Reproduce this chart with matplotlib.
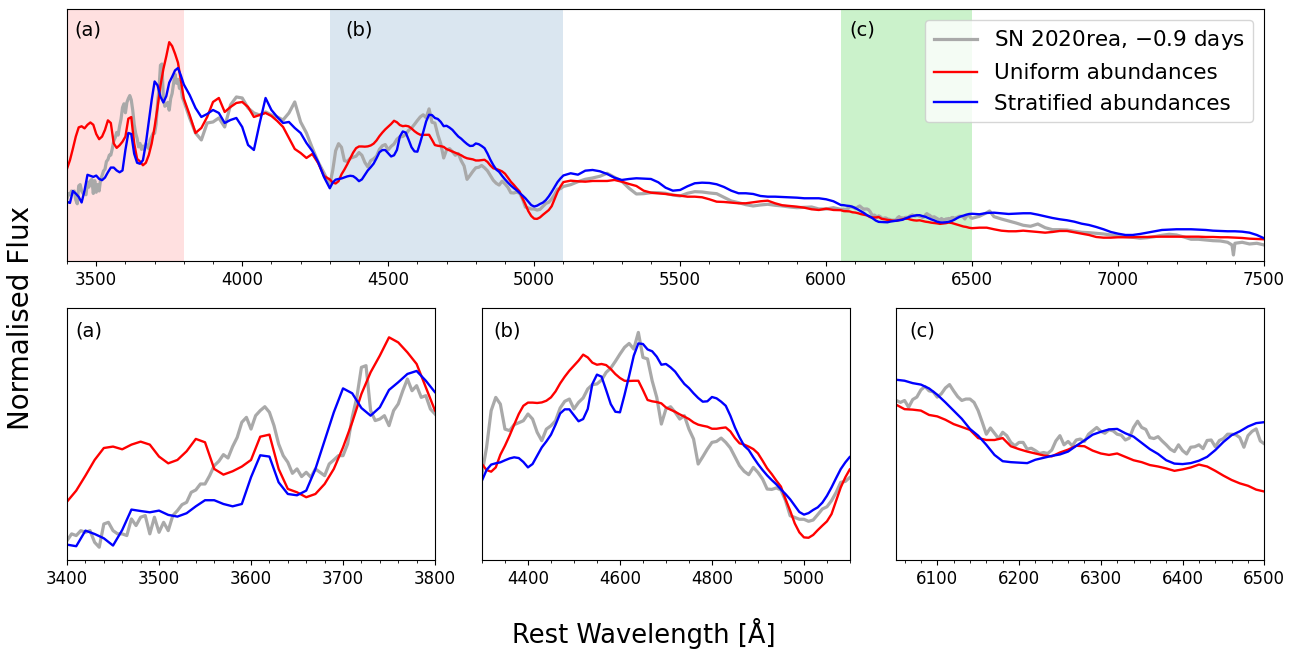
import numpy as np
import matplotlib.pyplot as plt
from matplotlib.ticker import AutoMinorLocator, MultipleLocator
import matplotlib.transforms as mtransforms

# wavelength sampling (Angstrom) for each stretch of the spectrum
wave_a = np.arange(3400, 3801, 10)
wave_ab = np.arange(3820, 4281, 20)
wave_b = np.arange(4300, 5101, 10)
wave_bc = np.arange(5125, 6026, 25)
wave_c = np.arange(6050, 6501, 10)
wave_red = np.arange(6525, 7501, 25)

obs_wave_a = np.arange(3400, 3801, 5)
obs_wave_c = np.arange(6050, 6501, 5)
obs_wave_red = [6525, 6550, 6560, 6575, 6600, 6625, 6650, 6675, 6700, 6725, 6750,
                6775, 6800, 6825, 6850, 6875, 6900, 6925, 6950, 6975, 7000, 7025,
                7050, 7075, 7100, 7125, 7150, 7175, 7200, 7225, 7250, 7275, 7300,
                7325, 7350, 7375, 7390, 7395, 7400, 7425, 7450, 7475, 7500]

# SN 2020rea observed spectrum
obs_a = [62.3, 67.5, 66.2, 70.0, 68.7, 70.0, 61.0, 57.2, 75.1, 76.4,
         70.0, 67.5, 67.5, 66.2, 79.0, 73.9, 80.3, 81.6, 67.5, 80.3,
         68.7, 76.4, 70.0, 81.6, 85.4, 90.0, 91.8, 99.5, 101.3, 105.9,
         105.9, 112.3, 120.0, 123.4, 128.5, 125.9, 134.7, 141.8, 153.4, 157.2,
         148.2, 158.5, 162.4, 165.4, 161.1, 150.8, 136.7, 127.7, 122.6, 114.1,
         117.5, 111.6, 114.9, 111.1, 117.5, 114.9, 112.3, 121.3, 124.4, 127.7,
         127.7, 136.7, 157.2, 172.6, 195.7, 197.0, 162.4, 154.7, 155.9, 158.5,
         150.8, 162.4, 167.5, 177.7, 186.7, 177.7, 181.6, 172.6, 173.9, 163.6,
         159.8]
obs_ab = [143, 128, 121, 138, 139, 143, 134, 156, 164, 163, 153, 148,
          146, 149, 146, 144, 141, 148, 159, 139, 128, 113, 99, 88]
obs_b = [76.2, 90.5, 110.2, 117.3, 113.7, 100.3, 99.5, 102.7, 103.7, 104.8,
         108.4, 105.7, 98.6, 94.1, 100.3, 102.1, 104.8, 111.6, 115.2, 116.4,
         111.1, 114.6, 117.0, 121.8, 124.1, 124.5, 126.6, 130.7, 133.0, 136.6,
         140.5, 144.1, 146.2, 143.2, 152.1, 138.7, 137.9, 126.2, 117.3, 103.0,
         111.1, 112.3, 109.3, 105.7, 107.5, 100.3, 95.0, 81.6, 85.5, 89.6,
         93.2, 93.7, 95.5, 93.2, 90.2, 85.5, 80.7, 77.7, 75.9, 79.8,
         77.1, 73.6, 68.2, 68.0, 68.8, 67.7, 62.0, 53.9, 53.0, 52.0,
         52.0, 50.9, 51.6, 54.5, 57.5, 58.7, 62.0, 66.4, 71.8, 72.3,
         74.5]
obs_bc = [76.3, 79.3, 81.7, 83.0, 84.7, 87.7, 83.7, 79.7, 72.7, 67.0,
          67.3, 68.3, 68.3, 67.7, 66.0, 65.0, 67.7, 69.3, 69.0, 68.0,
          67.3, 63.7, 60.0, 58.3, 56.3, 55.0, 56.0, 56.7, 55.7, 55.0,
          54.0, 53.3, 53.7, 54.0, 52.0, 52.0, 53.3]
obs_c = [51.7, 51.3, 51.7, 50.3, 51.9, 52.4, 53.9, 54.6, 53.7, 53.5,
         52.4, 53.1, 54.3, 55.0, 53.7, 52.5, 51.7, 52.0, 52.0, 51.3,
         49.6, 47.2, 44.7, 46.0, 44.9, 43.8, 45.1, 44.4, 43.0, 42.3,
         43.0, 43.0, 41.6, 41.8, 41.3, 40.7, 40.9, 40.7, 41.4, 43.3,
         44.4, 42.5, 43.2, 42.3, 43.5, 43.7, 43.2, 44.7, 45.4, 46.1,
         45.3, 44.9, 45.6, 45.4, 44.7, 44.5, 43.5, 43.9, 46.1, 47.4,
         46.1, 45.7, 44.0, 43.8, 44.2, 43.3, 42.5, 41.6, 41.1, 42.5,
         41.3, 40.6, 42.0, 42.1, 42.5, 41.7, 43.4, 43.5, 42.1, 43.4,
         43.8, 44.7, 44.7, 44.6, 44.0, 42.0, 44.4, 45.3, 45.8, 43.3,
         42.7]
obs_red = [44.7, 48.3, 50.0, 44.3, 42.0, 40.0, 38.0, 35.7, 34.7, 37.0, 33.3,
           31.3, 31.3, 31.0, 29.7, 28.7, 28.3, 27.7, 27.0, 26.0, 25.0, 24.3,
           23.7, 22.7, 23.3, 24.3, 25.7, 26.7, 26.0, 24.0, 21.7, 21.7, 21.0,
           20.3, 20.0, 18.7, 16.0, 6.0, 17.7, 18.7, 17.0, 17.7, 16.0]

# uniform abundance model
uni_a = [92.3, 100.8, 112.3, 124.4, 133.6, 134.7, 132.6, 136.2, 138.5, 136.2,
         127.0, 121.8, 124.4, 131.1, 140.6, 138.0, 117.5, 113.1, 115.7, 119.3,
         124.4, 142.3, 143.9, 117.5, 102.1, 99.5, 95.7, 98.2, 105.9, 117.5,
         134.1, 153.4, 175.2, 191.9, 204.7, 218.8, 214.9, 207.2, 198.3, 180.3,
         162.4]
uni_ab = [146, 128, 133, 144, 159, 163, 149, 154, 158, 159, 154, 144,
          146, 148, 145, 140, 134, 123, 112, 108, 103, 107, 98, 85]
uni_b = [81.6, 78.4, 77.5, 79.8, 86.6, 91.4, 96.8, 102.7, 108.4, 112.8,
         114.5, 114.5, 114.3, 114.6, 115.5, 117.3, 120.5, 124.8, 128.4, 131.6,
         134.3, 137.0, 140.2, 138.7, 135.9, 134.8, 135.2, 134.6, 132.5, 129.8,
         127.7, 126.2, 126.1, 126.2, 126.2, 121.2, 115.9, 115.2, 114.8, 114.1,
         111.9, 110.7, 109.6, 108.2, 107.0, 105.7, 103.9, 102.7, 102.1, 101.6,
         100.5, 100.5, 100.9, 101.2, 99.1, 95.5, 92.7, 92.0, 90.9, 89.6,
         87.3, 83.4, 79.3, 76.2, 72.7, 69.5, 62.7, 56.6, 49.8, 45.0,
         42.3, 42.1, 43.6, 46.2, 48.6, 50.9, 54.8, 62.0, 69.1, 74.5,
         78.9]
uni_bc = [80.3, 79.7, 79.3, 80.0, 80.0, 80.0, 81.0, 79.3, 77.0, 75.0,
          70.3, 68.3, 67.7, 67.0, 66.0, 65.3, 64.3, 64.3, 63.7, 61.7,
          59.3, 59.0, 58.3, 57.7, 57.7, 58.7, 59.7, 60.3, 57.7, 55.7,
          55.0, 54.3, 53.3, 51.7, 51.0, 52.3, 51.0]
uni_c = [50.8, 49.9, 49.8, 49.6, 48.7, 48.4, 47.7, 46.8, 46.2, 45.6,
         43.9, 43.5, 43.5, 43.9, 42.2, 41.6, 41.1, 40.7, 40.3, 40.1,
         40.9, 41.5, 42.3, 42.2, 41.3, 40.7, 40.4, 40.7, 40.0, 39.3,
         38.9, 38.3, 38.0, 37.6, 37.1, 37.4, 37.8, 38.4, 38.0, 37.1,
         36.1, 35.2, 34.5, 34.0, 33.2, 32.8]
uni_red = [33.3, 33.3, 31.7, 30.3, 29.7, 29.7, 30.3, 29.7, 29.0, 28.3,
           29.0, 30.0, 30.0, 28.7, 27.3, 26.0, 24.0, 23.3, 23.3, 23.7,
           23.7, 23.7, 24.0, 24.0, 24.3, 24.3, 24.3, 24.3, 24.3, 24.3,
           24.3, 24.0, 24.0, 23.7, 23.7, 23.3, 23.0, 22.3, 22.0, 21.7]

# stratified abundance model
strat_a = [59.2, 58.0, 70.0, 67.4, 64.1, 58.5, 70.5, 86.2, 85.1, 84.1,
           85.4, 82.1, 80.8, 83.4, 88.7, 93.4, 93.4, 90.5, 88.7, 90.5,
           111.1, 128.0, 127.0, 107.2, 98.2, 97.2, 100.8, 117.5, 139.3, 161.1,
           179.5, 175.7, 164.4, 158.5, 164.9, 178.3, 184.2, 190.6, 192.9, 185.4,
           176.5]
strat_ab = [166, 153, 144, 147, 151, 148, 138, 141, 143, 134, 116, 111,
            138, 163, 151, 144, 138, 139, 133, 128, 118, 110, 99, 84]
strat_b = [72.7, 78.4, 81.3, 82.0, 82.5, 83.6, 84.6, 85.2, 84.8, 82.7,
           79.8, 81.6, 86.1, 90.5, 93.7, 97.3, 102.7, 108.7, 110.9, 110.9,
           107.7, 104.5, 105.7, 111.1, 124.5, 129.5, 128.4, 121.2, 113.7, 109.6,
           109.3, 118.7, 128.9, 139.6, 146.2, 145.9, 143.0, 142.0, 139.1, 134.8,
           135.2, 133.4, 131.1, 127.7, 124.5, 122.3, 119.5, 117.0, 115.0, 115.2,
           117.5, 116.8, 115.0, 112.8, 107.5, 101.2, 95.9, 91.4, 89.1, 85.2,
           81.6, 78.4, 75.5, 73.0, 70.7, 68.0, 65.5, 62.7, 59.3, 55.9,
           54.5, 55.3, 57.0, 58.4, 60.9, 64.6, 69.1, 74.1, 78.9, 82.5,
           85.5]
strat_bc = [87.7, 86.3, 90.3, 91.0, 89.7, 87.0, 83.3, 81.0, 82.0, 82.7,
            82.3, 82.0, 78.7, 73.3, 70.3, 71.0, 74.7, 77.7, 78.3, 78.0,
            76.7, 74.0, 70.3, 67.7, 67.7, 67.0, 65.0, 64.3, 64.3, 64.0,
            63.7, 63.3, 62.7, 62.7, 62.7, 61.7, 59.7]
strat_c = [56.0, 55.8, 55.3, 55.0, 54.2, 52.9, 51.3, 49.6, 47.9, 45.8,
           44.4, 42.5, 40.4, 39.1, 38.9, 38.8, 38.7, 39.4, 39.8, 40.2,
           40.5, 41.1, 42.3, 43.4, 44.6, 45.2, 45.7, 45.8, 44.9, 44.2,
           42.9, 41.6, 40.6, 39.3, 38.6, 38.5, 38.7, 39.2, 40.0, 41.4,
           43.1, 44.5, 45.3, 46.3, 47.0, 47.2]
strat_red = [46.7, 48.0, 48.3, 47.7, 47.0, 47.3, 47.7, 47.7, 46.3, 44.7,
             43.0, 41.7, 40.7, 39.3, 37.3, 36.0, 34.0, 31.7, 29.0, 27.3,
             26.0, 26.0, 27.0, 28.3, 29.7, 31.0, 31.3, 31.7, 31.7, 31.7,
             31.3, 31.0, 30.3, 30.0, 29.7, 29.7, 29.3, 28.3, 26.0, 22.7]

wave_model = np.concatenate([wave_a, wave_ab, wave_b, wave_bc, wave_c, wave_red])
wave_obs = np.concatenate([obs_wave_a, wave_ab, wave_b, wave_bc, obs_wave_c, obs_wave_red])
flux_obs = np.concatenate([obs_a, obs_ab, obs_b, obs_bc, obs_c, obs_red])
flux_uni = np.concatenate([uni_a, uni_ab, uni_b, uni_bc, uni_c, uni_red])
flux_strat = np.concatenate([strat_a, strat_ab, strat_b, strat_bc, strat_c, strat_red])

regions = [(3400, 3800), (4300, 5100), (6050, 6500)]
region_labels = ['(a)', '(b)', '(c)']
region_colors = [('red', 0.12), ('steelblue', 0.2), ('limegreen', 0.25)]
zoom_ylims = [(47.4, 241.4), (30.2, 165.2), (18.6, 70.9)]


def draw_spectra(ax):
    ax.plot(wave_obs, flux_obs, color='darkgrey', lw=2.3, label='SN 2020rea, $-$0.9 days')
    ax.plot(wave_model, flux_uni, color='red', lw=1.7, label='Uniform abundances')
    ax.plot(wave_model, flux_strat, color='blue', lw=1.7, label='Stratified abundances')
    ax.set_yticks([])
    ax.xaxis.set_minor_locator(AutoMinorLocator())
    ax.tick_params(axis='x', labelsize=12)


fig = plt.figure(figsize=(13.04, 6.5), dpi=100)

ax_top = fig.add_axes([0.0514, 0.5985, 0.918, 0.3877])
for (lo, hi), (c, a) in zip(regions, region_colors):
    ax_top.axvspan(lo, hi, color=c, alpha=a, lw=0)
draw_spectra(ax_top)
ax_top.set_xlim(3400, 7500)
ax_top.set_ylim(0, 252)
ax_top.xaxis.set_major_locator(MultipleLocator(500))
ax_top.legend(loc='upper right', fontsize=15.5)
trans = mtransforms.blended_transform_factory(ax_top.transData, ax_top.transAxes)
for x, lab in zip([3425, 4352, 6078], region_labels):
    ax_top.text(x, 0.915, lab, transform=trans, fontsize=14, va='center', ha='left')

lefts = [0.0514, 0.3696, 0.6874]
majors = [100, 200, 100]
for i in range(3):
    ax = fig.add_axes([lefts[i], 0.1385, 0.2822, 0.3877])
    draw_spectra(ax)
    ax.set_xlim(*regions[i])
    ax.set_ylim(*zoom_ylims[i])
    ax.xaxis.set_major_locator(MultipleLocator(majors[i]))
    ax.xaxis.set_minor_locator(AutoMinorLocator())
    ax.text(0.024 + 0.006 * i, 0.91, region_labels[i], transform=ax.transAxes,
            fontsize=14, va='center', ha='left')

fig.text(0.494, 0.026, 'Rest Wavelength [Å]', fontsize=18.5, ha='center', va='center')
fig.text(0.016, 0.511, 'Normalised Flux', fontsize=20, rotation=90, ha='center', va='center')

fig.savefig('out.png', dpi=100)
